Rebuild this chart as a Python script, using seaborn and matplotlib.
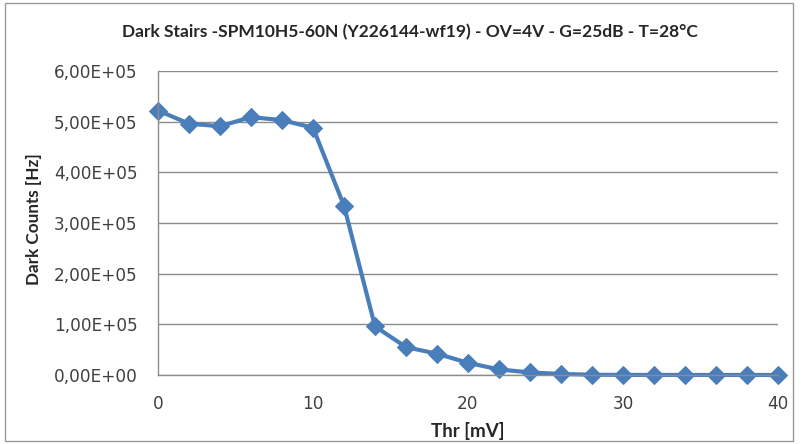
import pandas as pd
import matplotlib
matplotlib.use("Agg")
import matplotlib.pyplot as plt
import seaborn as sns
from matplotlib.ticker import FuncFormatter, MultipleLocator
from matplotlib.patches import Rectangle

# data
thr_mv = [0, 2, 4, 6, 8, 10, 12, 14, 16, 18, 20, 22, 24, 26, 28, 30, 32, 34, 36, 38, 40]
dark_counts = [5.22e5, 4.96e5, 4.91e5, 5.09e5, 5.03e5, 4.88e5, 3.34e5, 0.96e5, 0.55e5,
               0.42e5, 0.24e5, 0.11e5, 0.05e5, 0.02e5, 0.005e5, 0.002e5, 0.001e5,
               0.001e5, 0.0005e5, 0.0003e5, 0.0002e5]

df = pd.DataFrame({'Thr': thr_mv, 'Dark Counts': dark_counts})

sns.set_theme(style='white')
plt.rcParams['font.family'] = ['DejaVu Sans']

fig = plt.figure(figsize=(8.01, 4.44), dpi=100)
ax = fig.add_axes([158 / 801, 1 - 375 / 444, 620 / 801, 304 / 444])

blue = '#4a7ebb'
sns.lineplot(data=df, x='Thr', y='Dark Counts', ax=ax, color=blue, linewidth=3,
             marker='D', markersize=9.5, markeredgecolor=blue, clip_on=False)

ax.set_xlim(0, 40)
ax.set_ylim(0, 6e5)
ax.xaxis.set_major_locator(MultipleLocator(10))
ax.yaxis.set_major_locator(MultipleLocator(1e5))

# comma decimal like the excel original
def sci_comma(v, _):
    return f'{v:.2E}'.replace('.', ',')

ax.yaxis.set_major_formatter(FuncFormatter(sci_comma))

# grid and axes in excel grey
ax.grid(axis='y', color='#8c8c8c', linewidth=1)
ax.set_axisbelow(True)
for side in ['top', 'right']:
    ax.spines[side].set_visible(False)
for side in ['left', 'bottom']:
    ax.spines[side].set_color('#8c8c8c')
    ax.spines[side].set_linewidth(1)
ax.tick_params(axis='both', which='major', length=4.5, width=1, color='#8c8c8c',
               labelsize=12.2, labelcolor='#404040', direction='out')
ax.tick_params(axis='x', pad=10)
ax.tick_params(axis='y', pad=10)

lab_font = ['Lato', 'DejaVu Sans']
ax.set_xlabel('Thr [mV]', fontsize=13.5, fontweight='bold', color='#262626', family=lab_font)
ax.set_ylabel('Dark Counts [Hz]', fontsize=12.3, fontweight='bold', color='#262626', family=lab_font)
ax.xaxis.set_label_coords(0.5, -0.155)
ax.yaxis.set_label_coords((42 - 158) / 620, 0.513)

fig.text(410 / 801, 1 - 32 / 444, 'Dark Stairs -SPM10H5-60N (Y226144-wf19) - OV=4V - G=25dB - T=28°C',
         ha='center', va='center', fontsize=12.5, fontweight='bold', color='#262626',
         family=lab_font)

# chart area border
fig.patches.append(Rectangle((5 / 801, 3 / 444), 788 / 801, 438 / 444, transform=fig.transFigure,
                             fill=False, edgecolor='#9a9a9a', linewidth=1))

plt.savefig('out.png', dpi=100)
